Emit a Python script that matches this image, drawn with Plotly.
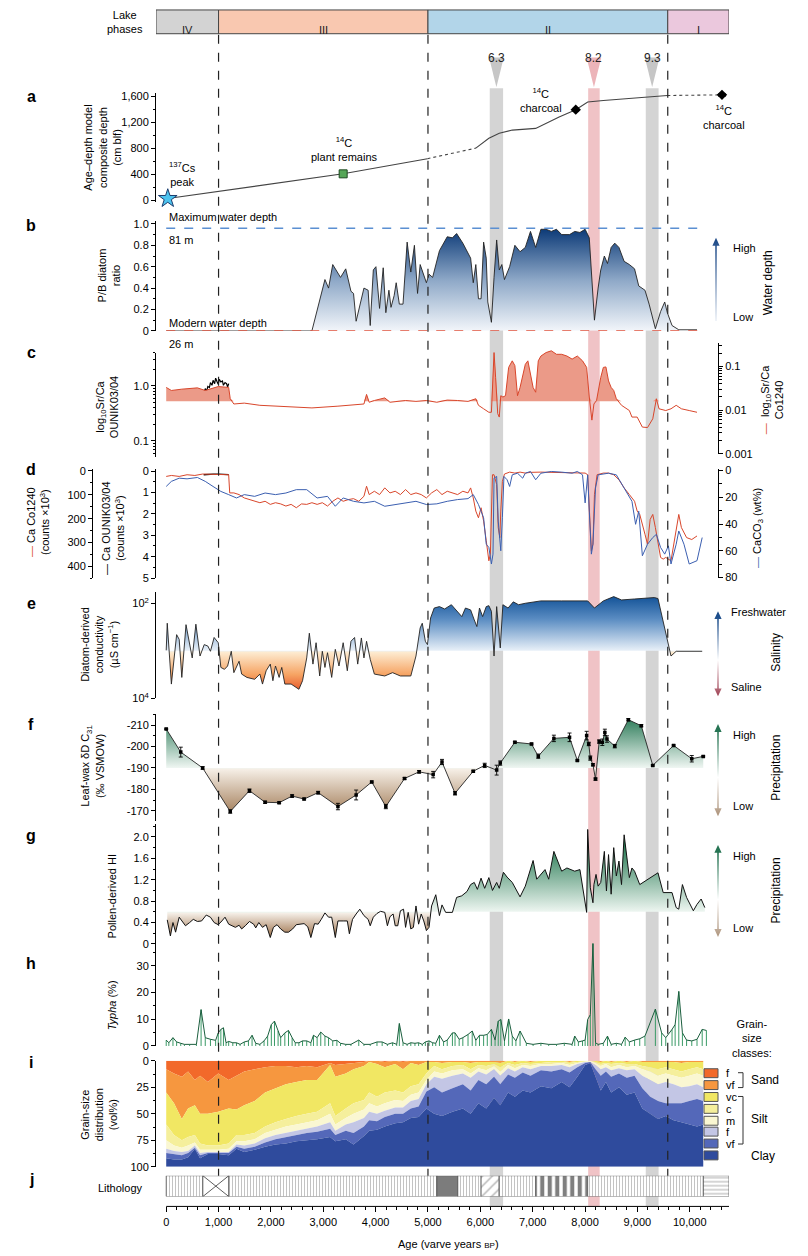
import numpy as np
import plotly.graph_objects as go

W, H = 808, 1256
FONT = "Liberation Sans Narrow, Arial Narrow, Liberation Sans, Arial, sans-serif"


def px(x):
    return x / W


def py(y):
    return 1 - y / H


def dom(top, bottom):
    return [py(bottom), py(top)]


# ---------------------------------------------------------------- data
lake_phase_names = ["IV", "III", "II", "I"]
lake_phase_start = [-195, 1000, 5000, 9580]
lake_phase_end = [1000, 5000, 9580, 10750]
lake_phase_colors = ["#d3d3d3", "#f9c8b0", "#b2d5e9", "#ebc8dd"]
phase_boundaries = [1000, 5000, 9580]

event_labels = ["6.3", "8.2", "9.3"]
event_start = [6180, 8060, 9160]
event_end = [6435, 8280, 9405]
event_colors = ["#d4d4d4", "#f0c3c6", "#d4d4d4"]
event_tri_colors = ["#c6c6c6", "#ecb4b9", "#c6c6c6"]

# (a) age-depth model
ad_age = [30, 994, 3380, 4990, 5914, 6163, 6362, 6610, 7057, 7505, 7823, 8051, 8350, 9572, 10616]
ad_depth = [25, 132, 405, 638, 800, 952, 1028, 1078, 1104, 1281, 1392, 1509, 1534, 1610, 1620]
dating_age = [30, 3380, 7823, 10616]
dating_depth = [25, 405, 1392, 1620]
dating_err = [0, 0, 50, 60]

# (b) P/B diatom ratio
pb_age = [0, 2783, 3032, 3101, 3181, 3330, 3429, 3529, 3578, 3628, 3777, 3857, 3897, 3956, 4006, 4075,
          4145, 4195, 4254, 4294, 4354, 4393, 4453, 4523, 4602, 4672, 4741, 4801, 4851, 4920, 4970,
          5020, 5089, 5219, 5368, 5467, 5547, 5666, 5815, 5865, 5914, 5964, 6014, 6063, 6113, 6143,
          6212, 6262, 6312, 6362, 6411, 6461, 6560, 6660, 6759, 6859, 6958, 7057, 7157, 7256, 7356,
          7455, 7554, 7704, 7803, 7902, 8002, 8081, 8151, 8180, 8250, 8300, 8369, 8429, 8499, 8568,
          8648, 8747, 8847, 8946, 9026, 9145, 9224, 9344, 9443, 9522, 9572, 9662, 9791, 10139]
pb_ratio = [0, 0, 0.48, 0.40, 0.62, 0.50, 0.58, 0.37, 0.35, 0.09, 0.40, 0.38, 0.05, 0.57, 0.60, 0.21,
            0.59, 0.17, 0.38, 0.22, 0.33, 0.45, 0.25, 0.25, 0.83, 0.55, 0.80, 0.35, 0.62, 0.53, 0.45,
            0.53, 0.50, 0.75, 0.88, 0.87, 0.91, 0.82, 0.68, 0.45, 0.62, 0.30, 0.30, 0.83, 0.68, 0.27,
            0.08, 0.50, 0.85, 0.57, 0.62, 0.48, 0.60, 0.80, 0.74, 0.78, 0.93, 0.78, 0.95, 0.95, 0.93,
            0.95, 0.90, 0.90, 0.93, 0.92, 0.95, 0.87, 0.27, 0.10, 0.40, 0.57, 0.70, 0.63, 0.78, 0.82,
            0.78, 0.65, 0.62, 0.58, 0.42, 0.38, 0.25, 0.02, 0.18, 0.27, 0.17, 0.05, 0.01, 0.01]
max_water_depth_ratio = 0.96

# (c) log10 Sr/Ca
srca_co_age = [0, 99, 298, 596, 746, 994, 1193, 1223, 1292, 1491, 1789, 2087, 2386, 2783, 3280, 3777,
               3827, 3877, 3976, 4175, 4274, 4572, 4771, 4970, 5169, 5368, 5566, 5765, 5914, 5964,
               6063, 6163, 6212, 6262, 6292, 6332, 6362, 6391, 6431, 6481, 6541, 6610, 6660, 6710,
               6759, 6859, 6908, 6958, 7008, 7057, 7107, 7157, 7256, 7356, 7455, 7554, 7654, 7753,
               7853, 7952, 8031, 8081, 8131, 8170, 8220, 8300, 8350, 8399, 8449, 8499, 8548, 8598,
               8697, 8847, 8896, 8996, 9095, 9194, 9294, 9363, 9413, 9542, 9642, 9741, 9841, 9990, 10139]
srca_co_log10 = [-1.48, -1.55, -1.52, -1.49, -1.55, -1.46, -1.48, -1.74, -1.86, -1.84, -1.89, -1.91,
                 -1.93, -1.95, -1.91, -1.86, -1.64, -1.82, -1.78, -1.72, -1.82, -1.78, -1.80, -1.78,
                 -1.82, -1.77, -1.78, -1.80, -1.74, -1.89, -1.97, -2.05, -2.05, -0.68, -1.25, -2.08,
                 -2.16, -1.67, -1.70, -1.67, -1.02, -0.87, -0.98, -1.67, -1.48, -0.95, -0.87, -1.17,
                 -1.48, -1.59, -0.87, -0.76, -0.68, -0.64, -0.72, -0.72, -0.76, -0.83, -0.76, -0.87,
                 -1.02, -1.70, -2.23, -1.86, -1.78, -1.25, -1.02, -1.01, -1.33, -1.48, -1.55, -1.74,
                 -1.89, -2.01, -2.16, -2.16, -2.39, -2.40, -2.20, -1.74, -1.97, -2.01, -1.97, -1.89,
                 -1.97, -2.01, -2.05]
srca_co_fill_base = -1.795
srca_ou_age = [716, 746, 775, 795, 825, 845, 875, 895, 925, 944, 974, 994, 1014, 1044, 1074, 1093, 1123,
               1153, 1173, 1193]
srca_ou_log10 = [-0.14, -0.05, -0.09, -0.01, -0.03, 0.06, 0.01, 0.10, 0.04, 0.14, 0.07, 0.03, 0.12,
                 0.07, 0.09, 0.01, 0.06, 0.04, -0.02, 0.04]

# (d) Ca records
ca_co_age = [0, 99, 248, 398, 547, 696, 1193, 1213, 1292, 1392, 1491, 1590, 1690, 1789, 1889, 1988,
             2087, 2187, 2286, 2386, 2485, 2584, 2684, 2783, 2883, 2982, 3081, 3181, 3280, 3380, 3479,
             3578, 3678, 3777, 3827, 3877, 3976, 4075, 4175, 4274, 4374, 4473, 4572, 4672, 4771, 4871,
             4970, 5069, 5169, 5268, 5368, 5467, 5566, 5666, 5765, 5815, 5865, 5914, 5964, 6014, 6063,
             6113, 6163, 6192, 6232, 6262, 6312, 6342, 6372, 6391, 6421, 6461, 6511, 6560, 6660, 6759,
             6859, 6958, 7157, 7356, 7554, 7753, 7902, 8002, 8051, 8091, 8121, 8151, 8180, 8230, 8350,
             8449, 8548, 8648, 8747, 8847, 8946, 8996, 9045, 9145, 9194, 9244, 9294, 9344, 9393, 9443,
             9493, 9542, 9642, 9741, 9791, 9841, 9940, 10039, 10139]
ca_co_counts = [23, 19, 23, 16, 19, 13, 16, 92, 92, 99, 113, 120, 127, 133, 127, 140, 133, 138, 147, 140,
                154, 138, 140, 133, 140, 133, 147, 127, 113, 127, 120, 116, 127, 106, 64, 99, 85, 99, 71,
                92, 85, 99, 78, 99, 92, 99, 113, 92, 78, 99, 85, 92, 99, 85, 92, 71, 113, 168, 196, 154,
                210, 292, 376, 348, 16, 16, 57, 237, 279, 168, 44, 13, 9, 5, 9, 5, 9, 6, 5, 6, 9, 8, 9, 9,
                16, 237, 334, 306, 99, 16, 9, 9, 16, 37, 71, 99, 127, 168, 182, 265, 306, 203, 182, 237,
                306, 362, 369, 362, 376, 251, 182, 237, 279, 287, 272]
ca_ou_age = [716, 800, 900, 1000, 1100, 1193]
ca_ou_counts = [0.17, 0.15, 0.14, 0.14, 0.15, 0.16]
caco3_age = [0, 99, 248, 398, 596, 746, 895, 1044, 1193, 1342, 1491, 1690, 1889, 2087, 2286, 2485, 2684,
             2883, 3081, 3230, 3380, 3578, 3777, 3976, 4175, 4374, 4572, 4771, 4970, 5169, 5368, 5566,
             5765, 5865, 5964, 6063, 6113, 6163, 6212, 6242, 6262, 6312, 6342, 6391, 6421, 6451, 6511,
             6560, 6610, 6710, 6809, 6859, 6958, 7057, 7157, 7356, 7554, 7753, 7853, 7952, 8002, 8051,
             8081, 8121, 8151, 8200, 8250, 8449, 8598, 8747, 8896, 8966, 9026, 9095, 9194, 9294, 9363,
             9443, 9522, 9592, 9642, 9741, 9791, 9890, 9990, 10139, 10238]
caco3_wt = [11.9, 8.1, 5.7, 6.2, 5.2, 8.1, 11.9, 15.6, 18.0, 20.5, 18.0, 19.3, 16.8, 18.0, 16.8, 14.3,
            14.3, 20.5, 19.3, 26.7, 20.5, 23.0, 24.2, 23.0, 26.7, 25.4, 24.2, 23.0, 25.4, 24.9, 23.0,
            21.7, 21.0, 18.0, 25.4, 35.3, 55.1, 57.5, 69.9, 62.5, 5.7, 4.4, 37.8, 60.0, 35.3, 4.4, 6.9,
            11.9, 3.2, 2.0, 5.7, 2.0, 0.7, 6.9, 2.0, 0.7, 1.2, 2.0, 0.7, 3.2, 24.2, 3.2, 30.4, 62.5,
            55.1, 13.1, 3.2, 2.0, 3.2, 13.1, 23.0, 40.2, 30.4, 63.7, 55.1, 50.1, 47.7, 57.5, 62.5, 56.3,
            69.9, 55.1, 45.2, 55.1, 69.9, 67.4, 50.1]

# (e) diatom-derived conductivity, log10(uS/cm)
cond_age = [0, 20, 99, 199, 248, 298, 378, 447, 497, 567, 646, 726, 795, 845, 915, 994, 1044, 1113, 1173,
            1243, 1292, 1392, 1441, 1541, 1690, 1789, 1839, 1909, 1988, 2038, 2087, 2157, 2207, 2266,
            2386, 2535, 2604, 2684, 2734, 2803, 2863, 2932, 2982, 3032, 3081, 3161, 3230, 3300, 3380,
            3459, 3529, 3598, 3658, 3728, 3777, 3827, 3897, 3976, 4175, 4324, 4473, 4672, 4771, 4851,
            4891, 4950, 4990, 5050, 5119, 5219, 5318, 5447, 5566, 5646, 5716, 5815, 5884, 5934, 5984,
            6044, 6113, 6163, 6212, 6262, 6312, 6381, 6431, 6530, 6630, 6730, 6859, 7157, 7554, 7853,
            8051, 8180, 8350, 8548, 8697, 8946, 9145, 9324, 9393, 9493, 9592, 9642, 9741, 10238]
cond_log10 = [2.99, 2.42, 3.70, 2.66, 2.76, 3.56, 2.45, 2.87, 3.15, 2.44, 3.11, 2.87, 2.90, 3.01, 2.72,
              2.83, 3.35, 3.39, 3.32, 3.01, 3.46, 3.22, 3.49, 3.56, 3.60, 3.49, 3.70, 3.42, 3.28, 3.63,
              3.32, 3.56, 3.35, 3.70, 3.70, 3.81, 3.63, 3.15, 2.63, 3.28, 2.83, 3.53, 3.01, 3.35, 3.04,
              3.56, 2.97, 3.32, 2.83, 3.42, 2.80, 2.72, 3.28, 2.73, 3.15, 2.80, 3.18, 3.49, 3.53, 3.46,
              3.53, 3.53, 3.11, 2.52, 2.42, 2.80, 2.87, 2.31, 2.10, 2.07, 2.12, 2.03, 2.17, 2.28, 2.10,
              2.14, 2.35, 2.49, 2.10, 2.28, 2.07, 2.05, 2.17, 3.11, 2.07, 2.94, 2.03, 2.10, 1.97, 2.03,
              2.00, 1.95, 1.95, 1.95, 1.95, 2.10, 1.95, 1.86, 1.93, 1.91, 1.90, 1.88, 1.90, 2.38, 2.87,
              3.11, 3.01, 3.01]
cond_base = 3.0

# (f) leaf-wax dD C31
dd_age = [0, 278, 696, 1223, 1590, 1889, 2157, 2405, 2634, 2902, 3280, 3628, 3926, 4195, 4553, 4831,
          5099, 5268, 5517, 5865, 6083, 6312, 6381, 6660, 6978, 7107, 7405, 7704, 7853, 8031, 8071,
          8101, 8151, 8200, 8270, 8330, 8379, 8419, 8568, 8827, 9075, 9294, 9692, 10039, 10258]
dd_value = [-208.2, -197.4, -190.0, -169.7, -179.4, -174.0, -173.8, -176.9, -175.5, -178.5, -172.0,
            -177.4, -183.5, -172.0, -185.1, -188.2, -186.9, -192.8, -178.2, -188.5, -191.2, -189.0,
            -192.3, -202.0, -201.2, -195.5, -203.8, -204.3, -193.5, -205.1, -201.2, -194.6, -191.5,
            -184.8, -202.3, -202.0, -206.6, -203.5, -200.2, -212.5, -209.7, -191.2, -200.5, -194.3,
            -195.4]
dd_err = [0.3, 2.3, 0.6, 0.8, 0.8, 0.5, 0.4, 0.6, 0.4, 0.6, 1.5, 2.3, 0.4, 1.0, 0.4, 0.6, 1.5, 1.2, 0.8,
          0.4, 1.0, 2.3, 1.0, 0.4, 0.4, 1.0, 1.5, 2.0, 0.3, 2.0, 0.8, 1.0, 0.5, 0.5, 0.8, 1.5, 1.5, 1.5,
          0.8, 0.5, 0.5, 0.3, 0.3, 1.5, 0.3]
dd_base = -190.0

# (g) pollen-derived HI
hi_age = [20, 80, 129, 179, 248, 298, 368, 447, 517, 596, 676, 765, 845, 915, 994, 1064, 1123, 1193,
          1262, 1322, 1392, 1441, 1511, 1590, 1670, 1710, 1769, 1839, 1909, 1988, 2048, 2117, 2187,
          2266, 2336, 2415, 2485, 2565, 2634, 2704, 2763, 2833, 2902, 2962, 3032, 3101, 3161, 3230,
          3280, 3380, 3459, 3499, 3559, 3628, 3698, 3777, 3857, 3897, 3956, 4026, 4095, 4175, 4225,
          4274, 4334, 4374, 4423, 4473, 4533, 4572, 4622, 4672, 4722, 4771, 4821, 4871, 4920, 4970,
          5020, 5069, 5149, 5219, 5268, 5338, 5467, 5547, 5646, 5745, 5815, 5884, 5944, 6014, 6083,
          6163, 6232, 6312, 6362, 6441, 6511, 6610, 6759, 6859, 7008, 7077, 7157, 7236, 7306, 7405,
          7554, 7654, 7803, 7902, 8031, 8051, 8101, 8151, 8170, 8210, 8250, 8300, 8369, 8409, 8449,
          8499, 8548, 8598, 8648, 8697, 8747, 8797, 8847, 8896, 8946, 9045, 9393, 9493, 9592, 9662,
          9741, 9791, 9860, 9940, 10069, 10139, 10218, 10288]
hi_value = [0.45, 0.15, 0.40, 0.22, 0.50, 0.43, 0.34, 0.40, 0.46, 0.42, 0.43, 0.54, 0.50, 0.40, 0.36,
            0.43, 0.50, 0.37, 0.34, 0.31, 0.35, 0.28, 0.34, 0.42, 0.37, 0.30, 0.40, 0.31, 0.36, 0.12,
            0.31, 0.36, 0.28, 0.22, 0.22, 0.28, 0.36, 0.37, 0.38, 0.32, 0.12, 0.38, 0.37, 0.46, 0.58,
            0.50, 0.50, 0.12, 0.43, 0.43, 0.43, 0.19, 0.46, 0.56, 0.65, 0.53, 0.46, 0.34, 0.50, 0.57,
            0.61, 0.59, 0.34, 0.51, 0.56, 0.34, 0.34, 0.62, 0.65, 0.31, 0.59, 0.28, 0.31, 0.71, 0.37,
            0.56, 0.43, 0.25, 0.31, 0.71, 0.92, 0.53, 0.73, 0.59, 0.59, 0.87, 0.90, 0.98, 1.11, 1.15,
            1.02, 1.23, 1.04, 1.24, 1.00, 1.15, 1.04, 1.34, 1.25, 1.15, 0.88, 1.08, 1.56, 1.21, 1.30,
            1.39, 1.21, 1.73, 1.36, 1.42, 1.36, 1.39, 0.59, 2.14, 1.05, 0.77, 1.11, 1.30, 1.08, 1.15,
            1.73, 0.99, 1.67, 0.93, 1.80, 1.27, 1.55, 1.11, 2.04, 1.67, 1.24, 1.42, 1.36, 1.11, 1.33,
            0.96, 0.96, 0.96, 0.68, 0.65, 1.11, 0.87, 0.62, 0.74, 0.84, 0.68]
hi_base = 0.6

# (h) Typha (%)
typha_age = [0, 50, 129, 199, 278, 348, 447, 577, 666, 746, 845, 944, 994, 1044, 1093, 1143, 1193, 1272,
             1342, 1411, 1491, 1571, 1640, 1710, 1789, 1869, 1938, 2008, 2068, 2137, 2187, 2266, 2336,
             2405, 2465, 2535, 2604, 2684, 2763, 2813, 2883, 2952, 3032, 3101, 3181, 3260, 3330, 3429,
             3529, 3678, 3777, 3897, 4026, 4125, 4225, 4324, 4403, 4453, 4523, 4602, 4672, 4751, 4821,
             4891, 4950, 5020, 5089, 5149, 5219, 5298, 5368, 5467, 5517, 5596, 5666, 5765, 5845, 5914,
             5984, 6063, 6133, 6212, 6282, 6342, 6391, 6461, 6541, 6610, 6680, 6759, 6879, 7008, 7157,
             7306, 7455, 7604, 7753, 7803, 7873, 7952, 8002, 8051, 8101, 8151, 8200, 8250, 8350, 8429,
             8499, 8598, 8697, 8767, 8847, 8946, 9045, 9145, 9344, 9463, 9542, 9662, 9721, 9791, 9860,
             9940, 10039, 10139, 10238, 10318]
typha_pct = [2.2, 1.2, 3.1, 1.5, 1.0, 0.6, 0.6, 0.6, 13.6, 3.1, 2.5, 2.1, 4.9, 6.2, 6.8, 1.2, 1.7, 1.2,
             1.2, 0.6, 1.5, 1.9, 4.0, 1.0, 0.6, 1.9, 3.7, 8.0, 9.3, 5.6, 3.1, 4.9, 5.8, 3.1, 1.2, 1.2,
             1.9, 1.9, 1.2, 4.0, 3.1, 5.2, 3.7, 3.1, 1.9, 2.1, 1.0, 0.6, 0.6, 2.2, 0.6, 0.6, 1.5, 1.5,
             0.6, 1.2, 0.6, 8.4, 1.2, 0.6, 1.2, 1.0, 1.2, 0.6, 1.5, 1.9, 1.2, 1.0, 4.0, 1.5, 2.2, 4.9,
             4.9, 2.5, 3.1, 4.3, 5.6, 2.1, 4.0, 4.0, 4.3, 6.2, 2.2, 9.3, 9.9, 1.9, 10.1, 3.7, 1.9, 5.6,
             1.0, 0.6, 1.0, 0.6, 0.6, 1.0, 0.6, 3.7, 1.5, 1.9, 2.2, 9.9, 11.7, 38.3, 1.2, 0.6, 1.0, 3.7,
             0.6, 1.0, 0.6, 3.3, 1.5, 2.2, 2.7, 3.7, 13.8, 4.9, 3.1, 6.2, 8.0, 20.4, 4.9, 2.2, 1.9, 2.5,
             6.2, 5.8]

# (i) grain size: cumulative vol% from the top, lower boundary of each class
gs_age = [0, 149, 298, 418, 547, 646, 795, 994, 1193, 1342, 1491, 1690, 1889, 2087, 2286, 2485, 2684,
          2883, 3131, 3230, 3429, 3578, 3777, 3877, 4026, 4175, 4374, 4523, 4672, 4821, 4970, 5119,
          5268, 5467, 5666, 5815, 5964, 6113, 6262, 6381, 6530, 6660, 6809, 6958, 7157, 7356, 7554,
          7704, 7853, 8002, 8101, 8200, 8300, 8399, 8499, 8648, 8797, 8946, 9095, 9244, 9393, 9542,
          9692, 9841, 9990, 10139, 10258]
gs_sand_f = [8, 12, 15, 10, 18, 14, 20, 12, 18, 14, 10, 8, 6, 5, 5, 6, 5, 6, 2, 4, 3, 2, 1, 0, 0, 1, 0,
             1, 0, 0, 0, 0, 0, 0, 0, 0, 0, 0, 0, 0, 0, 0, 0, 0, 0, 0, 0, 0, 0, 0, 0, 0, 0, 0, 0, 0, 0, 0,
             0, 0, 0, 0, 0, 0, 0, 0, 0]
gs_sand_vf = [30, 40, 55, 45, 42, 50, 50, 48, 45, 46, 42, 38, 30, 26, 22, 20, 18, 18, 4, 15, 12, 8, 5,
              1, 3, 6, 3, 8, 2, 4, 1, 1, 2, 1, 1, 2, 1, 1, 1, 2, 0, 1, 0, 1, 0, 0, 0, 1, 0, 0, 0, 0, 1,
              0, 1, 0, 1, 0, 1, 1, 1, 1, 1, 2, 1, 1, 1]
gs_silt_vc = [60, 70, 75, 72, 70, 78, 80, 80, 78, 70, 70, 68, 62, 58, 55, 52, 50, 48, 40, 52, 45, 40,
              37, 30, 34, 30, 28, 30, 24, 22, 12, 5, 8, 5, 4, 8, 4, 5, 3, 6, 2, 4, 2, 3, 2, 1, 1, 2, 1,
              0, 0, 1, 3, 2, 3, 2, 3, 3, 5, 6, 8, 6, 8, 10, 8, 6, 8]
gs_silt_c = [75, 80, 82, 80, 77, 84, 84, 84, 83, 76, 76, 74, 68, 65, 62, 60, 58, 56, 50, 60, 54, 50, 46,
             40, 43, 40, 37, 38, 32, 30, 18, 10, 12, 9, 8, 12, 7, 9, 5, 10, 4, 7, 4, 5, 3, 3, 2, 4, 2,
             1, 0, 2, 5, 3, 6, 4, 6, 5, 8, 10, 14, 12, 14, 16, 14, 12, 14]
gs_silt_m = [83, 85, 86, 85, 80, 87, 86, 86, 86, 79, 80, 78, 73, 70, 68, 66, 64, 62, 58, 66, 60, 58, 54,
             48, 50, 47, 44, 44, 38, 36, 22, 15, 17, 14, 12, 16, 10, 13, 8, 14, 7, 10, 6, 8, 5, 5, 4, 6,
             3, 1, 1, 4, 8, 6, 9, 7, 9, 8, 14, 18, 22, 20, 22, 25, 24, 22, 25]
gs_silt_f = [87, 88, 89, 87, 82, 89, 87, 87, 87, 81, 83, 81, 77, 74, 72, 70, 68, 67, 64, 70, 66, 68, 62,
             56, 57, 53, 50, 50, 45, 43, 29, 25, 30, 26, 22, 28, 18, 22, 15, 22, 13, 16, 11, 14, 9, 10,
             8, 11, 6, 2, 1, 8, 14, 10, 15, 12, 16, 14, 26, 34, 38, 40, 40, 40, 38, 36, 38]
gs_silt_vf = [92, 93, 93, 91, 83, 92, 88, 88, 89, 83, 86, 84, 81, 79, 78, 76, 75, 74, 72, 76, 74, 79,
              71, 66, 65, 62, 59, 58, 54, 53, 45, 50, 52, 48, 45, 50, 40, 45, 35, 42, 30, 34, 28, 30,
              24, 26, 20, 25, 15, 4, 2, 14, 28, 20, 30, 25, 32, 30, 45, 50, 55, 52, 56, 58, 60, 62, 60]
gs_classes = ["f", "vf", "vc", "c", "m", "f", "vf", "Clay"]
gs_colors = ["#f2692a", "#f6973f", "#f1e763", "#f5ef9c", "#faf7d2", "#c3c6e5", "#5468b9", "#2f4b9d"]

# (j) lithology
litho_start = [0, 700, 1195, 5170, 5570, 6015, 6360, 7060, 8050, 10260]
litho_end = [700, 1195, 5170, 5570, 6015, 6360, 7060, 8050, 10260, 10750]
litho_type = ["laminated", "massive", "laminated", "gray", "laminated", "slump", "laminated",
              "banded", "laminated", "horizontal"]

# ---------------------------------------------------------------- figure
fig = go.Figure()
RED = "#d8462b"
BLUE = "#3b5fb0"


def add(tr):
    fig.add_trace(tr)


# (a)
add(go.Scatter(x=ad_age[0:4], y=ad_depth[0:4], mode="lines", line=dict(color="#444", width=1.1),
               xaxis="x", yaxis="y", hoverinfo="skip"))
add(go.Scatter(x=ad_age[3:5], y=ad_depth[3:5], mode="lines", line=dict(color="#444", width=1.1, dash="dot"),
               xaxis="x", yaxis="y", hoverinfo="skip"))
add(go.Scatter(x=ad_age[4:14], y=ad_depth[4:14], mode="lines", line=dict(color="#444", width=1.1),
               xaxis="x", yaxis="y", hoverinfo="skip"))
add(go.Scatter(x=ad_age[13:15], y=ad_depth[13:15], mode="lines",
               line=dict(color="#444", width=1.1, dash="dot"), xaxis="x", yaxis="y", hoverinfo="skip"))
add(go.Scatter(x=dating_age[0:1], y=dating_depth[0:1], mode="markers", cliponaxis=False,
               marker=dict(symbol="star", size=14, color="#4cc3ee", line=dict(color="#1c3d6e", width=1)),
               xaxis="x", yaxis="y"))
add(go.Scatter(x=dating_age[1:2], y=dating_depth[1:2], mode="markers", cliponaxis=False,
               marker=dict(symbol="square", size=8, color="#55a657", line=dict(color="#1d4a20", width=1)),
               xaxis="x", yaxis="y"))
add(go.Scatter(x=dating_age[2:4], y=dating_depth[2:4], mode="markers", cliponaxis=False,
               marker=dict(symbol="diamond", size=8, color="black"),
               error_x=dict(type="data", array=dating_err[2:4], thickness=1, width=2, color="black"),
               xaxis="x", yaxis="y"))

# (b)
add(go.Scatter(x=pb_age, y=pb_ratio, mode="lines", line=dict(color="#222", width=0.9), fill="tozeroy",
               fillgradient=dict(type="vertical", start=0, stop=0.95,
                                 colorscale=[[0, "#f4f7fb"], [0.5, "#8fa9c8"], [1, "#0d3b78"]]),
               xaxis="x", yaxis="y2", hoverinfo="skip"))

# (c)
co_base = np.full(len(srca_co_age), srca_co_fill_base)
add(go.Scatter(x=srca_co_age, y=co_base, mode="lines", line=dict(width=0), xaxis="x", yaxis="y4",
               hoverinfo="skip"))
add(go.Scatter(x=srca_co_age, y=np.maximum(np.array(srca_co_log10), srca_co_fill_base), mode="lines",
               line=dict(width=0), fill="tonexty", fillcolor="#eb9a88", xaxis="x", yaxis="y4",
               hoverinfo="skip"))
add(go.Scatter(x=srca_co_age, y=srca_co_log10, mode="lines", line=dict(color=RED, width=1),
               xaxis="x", yaxis="y4", hoverinfo="skip"))
add(go.Scatter(x=srca_ou_age, y=srca_ou_log10, mode="lines", line=dict(color="black", width=1.2),
               xaxis="x", yaxis="y3", hoverinfo="skip"))

# (d)
add(go.Scatter(x=caco3_age, y=caco3_wt, mode="lines", line=dict(color=BLUE, width=1),
               xaxis="x", yaxis="y7", hoverinfo="skip"))
add(go.Scatter(x=ca_co_age, y=ca_co_counts, mode="lines", line=dict(color=RED, width=1),
               xaxis="x", yaxis="y6", hoverinfo="skip"))
add(go.Scatter(x=ca_ou_age, y=ca_ou_counts, mode="lines", line=dict(color="black", width=1.3),
               xaxis="x", yaxis="y5", hoverinfo="skip"))

# (e)
add(go.Scatter(x=cond_age, y=np.full(len(cond_age), cond_base), mode="lines", line=dict(width=0),
               xaxis="x", yaxis="y8", hoverinfo="skip"))
add(go.Scatter(x=cond_age, y=cond_log10, mode="lines", line=dict(color="#222", width=0.9), fill="tonexty",
               fillgradient=dict(type="vertical", start=1.8, stop=3.9,
                                 colorscale=[[0, "#0b4c93"], [0.25, "#5a8cc2"], [0.565, "#e8f0f8"],
                                             [0.578, "#fdecd2"], [0.8, "#f6a464"], [1, "#e2461c"]]),
               xaxis="x", yaxis="y8", hoverinfo="skip"))

# (f)
add(go.Scatter(x=dd_age, y=np.full(len(dd_age), dd_base), mode="lines", line=dict(width=0),
               xaxis="x", yaxis="y9", hoverinfo="skip"))
add(go.Scatter(x=dd_age, y=dd_value, mode="lines", line=dict(color="#222", width=0.9), fill="tonexty",
               fillgradient=dict(type="vertical", start=-213, stop=-168,
                                 colorscale=[[0, "#2f7d5b"], [0.505, "#eff6f2"], [0.516, "#f6efe7"],
                                             [1, "#a07a54"]]),
               xaxis="x", yaxis="y9", hoverinfo="skip"))
add(go.Scatter(x=dd_age, y=dd_value, mode="markers", marker=dict(symbol="square", size=3.5, color="black"),
               error_y=dict(type="data", array=dd_err, thickness=0.9, width=2, color="black"),
               xaxis="x", yaxis="y9", hoverinfo="skip"))

# (g)
add(go.Scatter(x=hi_age, y=np.full(len(hi_age), hi_base), mode="lines", line=dict(width=0),
               xaxis="x", yaxis="y10", hoverinfo="skip"))
add(go.Scatter(x=hi_age, y=hi_value, mode="lines", line=dict(color="#111", width=1), fill="tonexty",
               fillgradient=dict(type="vertical", start=0.1, stop=1.9,
                                 colorscale=[[0, "#93643a"], [0.27, "#f4ede5"], [0.285, "#eef6f1"],
                                             [1, "#1e744c"]]),
               xaxis="x", yaxis="y10", hoverinfo="skip"))

# (h)
stem_x, stem_y = [], []
for a, v in zip(typha_age, typha_pct):
    stem_x += [a, a, None]
    stem_y += [0, v, None]
add(go.Scatter(x=stem_x, y=stem_y, mode="lines", line=dict(color="#3a9a66", width=1),
               xaxis="x", yaxis="y11", hoverinfo="skip"))
add(go.Scatter(x=typha_age, y=typha_pct, mode="lines", line=dict(color="#1b5e3e", width=1),
               xaxis="x", yaxis="y11", hoverinfo="skip"))

# (i)
gs_bounds = [gs_sand_f, gs_sand_vf, gs_silt_vc, gs_silt_c, gs_silt_m, gs_silt_f, gs_silt_vf,
             list(np.full(len(gs_age), 100))]
add(go.Scatter(x=gs_age, y=np.zeros(len(gs_age)), mode="lines", line=dict(width=0),
               xaxis="x", yaxis="y12", hoverinfo="skip"))
for bnd, col in zip(gs_bounds, gs_colors):
    add(go.Scatter(x=gs_age, y=bnd, mode="lines", line=dict(width=0), fill="tonexty", fillcolor=col,
                   xaxis="x", yaxis="y12", hoverinfo="skip"))

# (j)
litho_style = {
    "laminated": dict(color="white", pattern=dict(shape="|", fgcolor="#7a7a7a", bgcolor="white", size=3,
                                                  solidity=0.3, fillmode="overlay")),
    "massive": dict(color="white"),
    "gray": dict(color="#7c7c7c"),
    "slump": dict(color="white", pattern=dict(shape="/", fgcolor="#666", bgcolor="white", size=7,
                                              solidity=0.2, fillmode="overlay")),
    "banded": dict(color="white", pattern=dict(shape="|", fgcolor="black", bgcolor="white", size=7.5,
                                               solidity=0.55, fillmode="overlay")),
    "horizontal": dict(color="white", pattern=dict(shape="-", fgcolor="#555", bgcolor="white", size=4,
                                                   solidity=0.25, fillmode="overlay")),
}
for s, e, t in zip(litho_start, litho_end, litho_type):
    st = dict(litho_style[t])
    st["line"] = dict(color="#555", width=0.8)
    add(go.Bar(x=[e - s], base=[s], y=[0.5], width=[1], orientation="h", marker=st,
               xaxis="x", yaxis="y13", hoverinfo="skip"))
    if t == "massive":
        add(go.Scatter(x=[s, e, None, s, e], y=[0, 1, None, 1, 0], mode="lines",
                       line=dict(color="#333", width=0.8), xaxis="x", yaxis="y13", hoverinfo="skip"))


# ----------------------------------------------------------- overlay (pixel coords) decorations
def ov(xs, ys, **kw):
    add(go.Scatter(x=xs, y=ys, xaxis="x2", yaxis="y14", hoverinfo="skip", **kw))


def grad_arrow(x, top, bottom, colors, double=True):
    hw, hh, sw = 3.6, 8, 0.8
    if double:
        xs = [x, x + hw, x + sw, x + sw, x + hw, x, x - hw, x - sw, x - sw, x - hw, x]
        ys = [top, top + hh, top + hh, bottom - hh, bottom - hh, bottom, bottom - hh, bottom - hh,
              top + hh, top + hh, top]
    else:
        xs = [x, x + hw, x + sw, x + sw, x - sw, x - sw, x - hw, x]
        ys = [top, top + hh, top + hh, bottom, bottom, top + hh, top + hh, top]
    ov(xs, ys, mode="lines", line=dict(width=0), fill="toself",
       fillgradient=dict(type="vertical", start=top, stop=bottom, colorscale=colors))


grad_arrow(716, 234, 318, [[0, "#1d4a88"], [1, "#f4f7fb"]], double=False)
grad_arrow(718, 611, 697, [[0, "#1c4d8b"], [0.5, "#ffffff"], [1, "#8c1b31"]])
grad_arrow(718, 725, 818, [[0, "#267453"], [0.5, "#ffffff"], [1, "#9a7a5c"]])
grad_arrow(718, 847, 940, [[0, "#267453"], [0.5, "#ffffff"], [1, "#9a7a5c"]])

# grain-size legend brackets
ov([738, 743, 743, 738], [1077, 1077, 1092, 1092], mode="lines", line=dict(color="#333", width=1))
ov([738, 743, 743, 738], [1101, 1101, 1149, 1149], mode="lines", line=dict(color="#333", width=1))

# ---------------------------------------------------------------- shapes
shapes = []
for s, e, c in zip(event_start, event_end, event_colors):
    shapes.append(dict(type="rect", xref="x", yref="paper", x0=s, x1=e, y0=py(1212), y1=py(83),
                       fillcolor=c, line=dict(width=0), layer="below"))
for s, e, c in zip(event_start, event_end, event_tri_colors):
    m = (s + e) / 2
    hw = 140
    shapes.append(dict(type="path", xref="x", yref="paper",
                       path=f"M {m - hw},{py(52)} L {m + hw},{py(52)} L {m},{py(82)} Z",
                       fillcolor=c, line=dict(width=0), layer="below"))
for s, e, c in zip(lake_phase_start, lake_phase_end, lake_phase_colors):
    shapes.append(dict(type="rect", xref="x", yref="paper", x0=s, x1=e, y0=py(28), y1=py(4),
                       fillcolor=c, line=dict(color="#444", width=1)))
for b in phase_boundaries:
    shapes.append(dict(type="line", xref="x", yref="paper", x0=b, x1=b, y0=py(29), y1=py(1181),
                       line=dict(color="#222", width=1.2, dash="dash"), layer="above"))
# panel b reference depths
shapes.append(dict(type="line", xref="x", yref="y2", x0=0, x1=10280, y0=max_water_depth_ratio,
                   y1=max_water_depth_ratio, line=dict(color="#5b8fd2", width=1.6, dash="dash")))
shapes.append(dict(type="line", xref="x", yref="y2", x0=0, x1=10280, y0=0, y1=0,
                   line=dict(color="#e0533e", width=1.6, dash="dash")))
# x axis line
shapes.append(dict(type="line", xref="x", yref="paper", x0=0, x1=10750, y0=py(1212), y1=py(1212),
                   line=dict(color="black", width=1)))
# grain-size legend squares
leg_y = [1073, 1085, 1097, 1109, 1121, 1132, 1144, 1156]
for yy, c in zip(leg_y, gs_colors):
    shapes.append(dict(type="rect", xref="paper", yref="paper", x0=px(704), x1=px(718), y0=py(yy + 9),
                       y1=py(yy), fillcolor=c, line=dict(color="#555", width=1)))

# ---------------------------------------------------------------- annotations
ann = []


def text(x, y, s, size=11, xanchor="center", yanchor="middle", angle=0, color="black", bold=False):
    if bold:
        s = f"<b>{s}</b>"
    ann.append(dict(x=px(x), y=py(y), xref="paper", yref="paper", text=s, showarrow=False,
                    font=dict(size=size, family=FONT, color=color), xanchor=xanchor, yanchor=yanchor,
                    textangle=angle))


text(145, 16, "Lake<br>phases", xanchor="right")
for s, e, n in zip(lake_phase_start, lake_phase_end, lake_phase_names):
    ann.append(dict(x=(s + e) / 2, y=py(16), xref="x", yref="paper", text=n, showarrow=False,
                    font=dict(size=11, family=FONT, color="#222")))
for s, e, n in zip(event_start, event_end, event_labels):
    ann.append(dict(x=(s + e) / 2, y=py(43), xref="x", yref="paper", text=n, showarrow=False,
                    font=dict(size=12, family=FONT, color="#222")))

for letter, yy in zip("abcdefghij", [91, 222, 350, 468, 603, 725, 838, 967, 1067, 1185]):
    text(31, yy, letter, size=16, bold=True)

text(103, 143, "Age–depth model<br>composite depth<br>(cm blf)", angle=-90)
text(182, 170, "<sup>137</sup>Cs<br>peak")
text(344, 144, "<sup>14</sup>C<br>plant remains")
text(541, 95, "<sup>14</sup>C<br>charcoal")
text(724, 112, "<sup>14</sup>C<br>charcoal")

text(109, 272, "P/B diatom<br>ratio", angle=-90)
text(167, 213, "Maximum water depth", xanchor="left")
text(167, 236, "81 m", xanchor="left")
text(167, 320, "Modern water depth", xanchor="left")
text(167, 341, "26 m", xanchor="left")
text(731, 244, "High", xanchor="left")
text(731, 314, "Low", xanchor="left")
text(768, 280, "Water depth", angle=-90, size=12)

text(107, 405, "log<sub>10</sub>Sr/Ca<br>OUNIK03/04", angle=-90)
text(772, 398, f"<span style='color:{RED}'>—</span>  log<sub>10</sub>Sr/Ca<br>Co1240", angle=-90)

text(38, 521, f"<span style='color:{RED}'>—</span> Ca Co1240<br>(counts ×10<sup>3</sup>)", angle=-90)
text(113, 527, "— Ca OUNIK03/04<br>(counts ×10<sup>3</sup>)", angle=-90)
text(758, 527, f"<span style='color:{BLUE}'>—</span> CaCO<sub>3</sub> (wt%)", angle=-90)

text(100, 645, "Diatom-derived<br>conductivity<br>(µS cm<sup>−1</sup>)", angle=-90)
text(729, 612, "Freshwater", xanchor="left")
text(729, 688, "Saline", xanchor="left")
text(776, 653, "Salinity", angle=-90, size=12)

text(92, 768, "Leaf-wax δD C<sub>31</sub><br>(‰ VSMOW)", angle=-90)
text(731, 736, "High", xanchor="left")
text(731, 808, "Low", xanchor="left")
text(776, 769, "Precipitation", angle=-90, size=12)

text(112, 899, "Pollen-derived HI", angle=-90)
text(731, 858, "High", xanchor="left")
text(731, 931, "Low", xanchor="left")
text(776, 893, "Precipitation", angle=-90, size=12)

text(112, 1009, "<i>Typha</i> (%)", angle=-90)
text(752, 1042, "Grain-<br>size<br>classes:")

text(99, 1120, "Grain-size<br>distribution<br>(vol%)", angle=-90)
for yy, lab in zip(leg_y[:7], gs_classes[:7]):
    text(724, yy + 4.5, lab, xanchor="left")
text(749, 1084, "Sand", xanchor="left", size=12)
text(749, 1124, "Silt", xanchor="left", size=12)
text(749, 1161, "Clay", xanchor="left", size=12)

text(120, 1193, "Lithology")
text(448, 1250, "Age (varve years <span style='font-size:8px'>BP</span>)")

# ---------------------------------------------------------------- axes
TICKF = dict(size=11, family=FONT, color="black")


def yax(top, bottom, rng, **kw):
    d = dict(domain=dom(top, bottom), range=rng, showline=True, linecolor="black", linewidth=1,
             ticks="outside", ticklen=4, tickwidth=1, tickcolor="black", showgrid=False, zeroline=False,
             tickfont=TICKF, anchor="x", fixedrange=True)
    d.update(kw)
    return d


def log_minor(decades):
    return [float(np.log10(k * 10.0 ** n)) for n in decades for k in range(2, 10)]


layout_axes = dict(
    xaxis=dict(domain=[px(156), px(729)], range=[-195, 10750], anchor="free", position=py(1212),
               showline=False, ticks="outside", ticklen=5, tickwidth=1, tickcolor="black",
               tick0=0, dtick=1000, tickformat=",d", tickfont=TICKF, showgrid=False, zeroline=False,
               minor=dict(ticks="outside", ticklen=3, tick0=0, dtick=200, tickcolor="black", showgrid=False),
               fixedrange=True),
    yaxis=yax(88, 198, [-30, 1646], tickvals=[0, 400, 800, 1200, 1600],
              ticktext=["0", "400", "800", "1,200", "1,600"],
              minor=dict(ticks="outside", ticklen=2.5, dtick=200, tick0=0, tickcolor="black")),
    yaxis2=yax(217, 328, [0, 1.028], tickvals=[0, 0.2, 0.4, 0.6, 0.8, 1.0],
               ticktext=["0", "0.2", "0.4", "0.6", "0.8", "1.0"],
               minor=dict(ticks="outside", ticklen=2.5, dtick=0.1, tick0=0, tickcolor="black")),
    yaxis3=yax(350, 455, [-1.288, 0.604], tickvals=[-1, 0], ticktext=["0.1", "1.0"],
               minor=dict(ticks="outside", ticklen=2.5, tickmode="array", tickvals=log_minor([-2, -1, 0]),
                          tickcolor="black")),
    yaxis4=yax(340, 452, [-3.0, -0.455], anchor="free", position=px(718), side="right",
               tickvals=[-3, -2, -1], ticktext=["0.001", "0.01", "0.1"],
               minor=dict(ticks="outside", ticklen=2.5, tickmode="array", tickvals=log_minor([-3, -2, -1]),
                          tickcolor="black")),
    yaxis5=yax(467, 578, [5.02, -0.12], tickvals=[0, 1, 2, 3, 4, 5],
               minor=dict(ticks="outside", ticklen=2.5, dtick=0.5, tick0=0, tickcolor="black")),
    yaxis6=yax(467, 578, [450, -10], anchor="free", position=px(92), tickvals=[0, 100, 200, 300, 400],
               minor=dict(ticks="outside", ticklen=2.5, dtick=50, tick0=0, tickcolor="black")),
    yaxis7=yax(467, 578, [80.7, -1.5], anchor="free", position=px(718), side="right",
               tickvals=[0, 20, 40, 60, 80],
               minor=dict(ticks="outside", ticklen=2.5, dtick=10, tick0=0, tickcolor="black")),
    yaxis8=yax(592, 699, [4.0, 1.77], tickvals=[2, 4], ticktext=["10<sup>2</sup>", "10<sup>4</sup>"]),
    yaxis9=yax(715, 823, [-165.2, -215.1], tickvals=[-210, -200, -190, -180, -170],
               ticktext=["-210", "-200", "-190", "-180", "-170"],
               minor=dict(ticks="outside", ticklen=2.5, dtick=5, tick0=0, tickcolor="black")),
    yaxis10=yax(826, 947, [0, 2.24], tickvals=[0, 0.4, 0.8, 1.2, 1.6, 2.0],
                ticktext=["0", "0.4", "0.8", "1.2", "1.6", "2.0"],
                minor=dict(ticks="outside", ticklen=2.5, dtick=0.2, tick0=0, tickcolor="black")),
    yaxis11=yax(945, 1050, [0, 38.9], tickvals=[0, 10, 20, 30],
                minor=dict(ticks="outside", ticklen=2.5, dtick=5, tick0=0, tickcolor="black")),
    yaxis12=yax(1065, 1172, [100, 0], tickvals=[0, 25, 50, 75, 100],
                minor=dict(ticks="outside", ticklen=2.5, dtick=12.5, tick0=0, tickcolor="black")),
    yaxis13=dict(domain=dom(1181, 1202), range=[0, 1], visible=False, anchor="x", fixedrange=True),
    xaxis2=dict(domain=[0, 1], range=[0, W], visible=False, anchor="y14", fixedrange=True),
    yaxis14=dict(domain=[0, 1], range=[H, 0], visible=False, anchor="x2", fixedrange=True),
)

fig.update_layout(
    width=W, height=H, margin=dict(l=0, r=0, t=0, b=0), paper_bgcolor="white",
    plot_bgcolor="rgba(0,0,0,0)", showlegend=False, barmode="overlay", shapes=shapes, annotations=ann,
    font=dict(family=FONT, size=11, color="black"), **layout_axes)

fig.write_html("out.html")
